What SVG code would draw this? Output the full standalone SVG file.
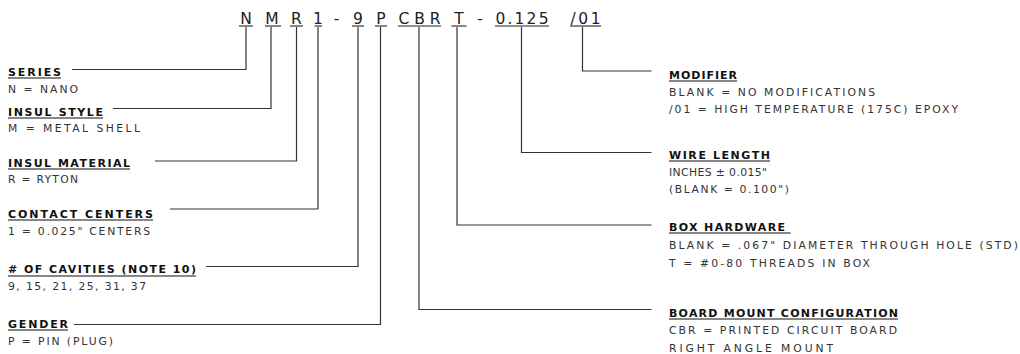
<svg xmlns="http://www.w3.org/2000/svg" width="1020" height="354" viewBox="0 0 1020 354">
<style>
text{font-family:"DejaVu Sans","Liberation Sans",Arial,sans-serif}
.code{font-size:15.5px;fill:#222;text-anchor:middle}
.h{font-size:11px;font-weight:bold;fill:#111}
.b{font-size:10.8px;fill:#333}
.ul{stroke:#111;stroke-width:1.2}
.cul{stroke:#222;stroke-width:1.1}
.conn{fill:none;stroke:#333;stroke-width:1.2}
</style>
<rect width="1020" height="354" fill="#fff"/>
<g id="code">
<text class="code" x="246" y="24">N</text><line class="cul" x1="239" y1="26" x2="253" y2="26"/>
<text class="code" x="272" y="24">M</text><line class="cul" x1="265" y1="26" x2="281" y2="26"/>
<text class="code" x="296.5" y="24">R</text><line class="cul" x1="290" y1="26" x2="303" y2="26"/>
<text class="code" x="318" y="24">1</text><line class="cul" x1="314.5" y1="26" x2="322" y2="26"/>
<text class="code" x="336.5" y="24">-</text>
<text class="code" x="358" y="24">9</text><line class="cul" x1="352" y1="26" x2="364" y2="26"/>
<text class="code" x="381" y="24">P</text><line class="cul" x1="375" y1="26" x2="387" y2="26"/>
<text class="code" x="419.5" y="24" textLength="42" lengthAdjust="spacing">CBR</text><line class="cul" x1="398" y1="26" x2="441" y2="26"/>
<text class="code" x="459" y="24">T</text><line class="cul" x1="451.5" y1="26" x2="466.5" y2="26"/>
<text class="code" x="480" y="24">-</text>
<text class="code" x="522" y="24" textLength="53" lengthAdjust="spacing">0.125</text><line class="cul" x1="495" y1="26" x2="549" y2="26"/>
<text class="code" x="585.5" y="24" textLength="30" lengthAdjust="spacing">/01</text><line class="cul" x1="570" y1="26" x2="601" y2="26"/>
</g>
<g id="connectors">
<polyline class="conn" points="246,27 246,69.5 72,69.5"/>
<polyline class="conn" points="271,27 271,108.5 113,108.5"/>
<polyline class="conn" points="296.5,27 296.5,161 155,161"/>
<polyline class="conn" points="318,27 318,209 170,209"/>
<polyline class="conn" points="358,27 358,266.5 206,266.5"/>
<polyline class="conn" points="380.5,27 380.5,324.5 74,324.5"/>
<polyline class="conn" points="419,27 419,309.5 651.5,309.5"/>
<polyline class="conn" points="457,27 457,225 651.5,225"/>
<polyline class="conn" points="521.5,27 521.5,152.5 651.5,152.5"/>
<polyline class="conn" points="582.5,27 582.5,71 651.5,71"/>
</g>
<g id="series">
<text class="h" x="8" y="76" textLength="53" lengthAdjust="spacing">SERIES</text><line class="ul" x1="8" y1="78" x2="61" y2="78"/>
<text class="b" x="8" y="92.5" textLength="70" lengthAdjust="spacing">N = NANO</text>
</g>
<g id="insul-style">
<text class="h" x="8" y="116" textLength="95" lengthAdjust="spacing">INSUL STYLE</text><line class="ul" x1="8" y1="118" x2="103" y2="118"/>
<text class="b" x="8" y="132" textLength="132" lengthAdjust="spacing">M = METAL SHELL</text>
</g>
<g id="insul-material">
<text class="h" x="8" y="167" textLength="122" lengthAdjust="spacing">INSUL MATERIAL</text><line class="ul" x1="8" y1="169" x2="130" y2="169"/>
<text class="b" x="8" y="182.5" textLength="70" lengthAdjust="spacing">R = RYTON</text>
</g>
<g id="contact-centers">
<text class="h" x="8" y="218" textLength="145" lengthAdjust="spacing">CONTACT CENTERS</text><line class="ul" x1="8" y1="220" x2="153" y2="220"/>
<text class="b" x="8" y="234.5" textLength="142" lengthAdjust="spacing">1 = 0.025" CENTERS</text>
</g>
<g id="cavities">
<text class="h" x="8" y="273" textLength="188" lengthAdjust="spacing"># OF CAVITIES (NOTE 10)</text><line class="ul" x1="8" y1="276" x2="196" y2="276"/>
<text class="b" x="8" y="290" textLength="138" lengthAdjust="spacing">9, 15, 21, 25, 31, 37</text>
</g>
<g id="gender">
<text class="h" x="8" y="328" textLength="60" lengthAdjust="spacing">GENDER</text><line class="ul" x1="8" y1="330" x2="68" y2="330"/>
<text class="b" x="8" y="345" textLength="105" lengthAdjust="spacing">P = PIN (PLUG)</text>
</g>
<g id="modifier">
<text class="h" x="669" y="79" textLength="68" lengthAdjust="spacing">MODIFIER</text><line class="ul" x1="669" y1="81" x2="737" y2="81"/>
<text class="b" x="669" y="96" textLength="206" lengthAdjust="spacing">BLANK = NO MODIFICATIONS</text>
<text class="b" x="669" y="113" textLength="289" lengthAdjust="spacing">/01 = HIGH TEMPERATURE (175C) EPOXY</text>
</g>
<g id="wire-length">
<text class="h" x="669" y="159" textLength="101" lengthAdjust="spacing">WIRE LENGTH</text><line class="ul" x1="669" y1="161" x2="770" y2="161"/>
<text class="b" x="669" y="176" textLength="98" lengthAdjust="spacing">INCHES ± 0.015"</text>
<text class="b" x="669" y="192.5" textLength="120" lengthAdjust="spacing">(BLANK = 0.100")</text>
</g>
<g id="box-hardware">
<text class="h" x="669" y="231" textLength="116" lengthAdjust="spacing">BOX HARDWARE</text><line class="ul" x1="669" y1="233" x2="790.5" y2="233"/>
<text class="b" x="669" y="248.5" textLength="349" lengthAdjust="spacing">BLANK = .067" DIAMETER THROUGH HOLE (STD)</text>
<text class="b" x="669" y="266.5" textLength="201" lengthAdjust="spacing">T = #0-80 THREADS IN BOX</text>
</g>
<g id="board-mount">
<text class="h" x="669" y="317" textLength="229" lengthAdjust="spacing">BOARD MOUNT CONFIGURATION</text><line class="ul" x1="669" y1="319" x2="898" y2="319"/>
<text class="b" x="669" y="334" textLength="228" lengthAdjust="spacing">CBR = PRINTED CIRCUIT BOARD</text>
<text class="b" x="669" y="351.5" textLength="164" lengthAdjust="spacing">RIGHT ANGLE MOUNT</text>
</g>
</svg>
